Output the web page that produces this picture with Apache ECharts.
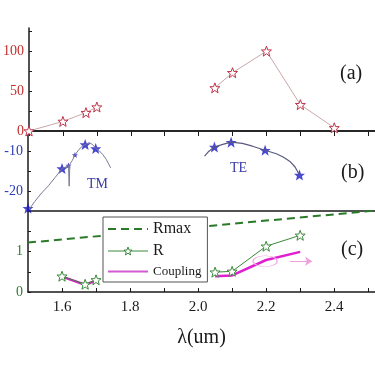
<!DOCTYPE html>
<html>
<head>
  <meta charset="UTF-8">
  <title>Rmax / R / Coupling</title>
  <script src="https://cdn.jsdelivr.net/npm/echarts/dist/echarts.min.js"></script>
  <style>
    html, body { margin: 0; padding: 0; background: #fff; }
    #main { width: 375px; height: 375px; }
  </style>
</head>
<body>
  <div id="main"></div>
  <script>
    // panel (a): starred points
    var aLeft = [[1.5, 0], [1.6, 12], [1.668, 23], [1.7, 30]];
    var aRight = [[2.048, 54], [2.1, 73], [2.2, 100], [2.3, 33], [2.4, 4]];

    // panel (b): TM and TE curves, plus starred points
    var tmCurve = [[1.504, -24.5], [1.52, -22.6], [1.54, -20.5], [1.56, -18.7], [1.58, -16.6],
      [1.6, -14.4], [1.61, -14.0], [1.619, -13.6], [1.621, -18.8], [1.623, -13.3],
      [1.63, -12.4], [1.638, -11.0], [1.65, -9.6], [1.66, -8.8], [1.668, -8.4],
      [1.68, -7.9], [1.69, -8.4], [1.699, -9.3], [1.71, -10.0], [1.72, -10.9],
      [1.73, -12.1], [1.743, -14.2]];
    var tmStars = [[1.5, -24.3], [1.6, -14.4], [1.668, -8.4], [1.699, -9.4]];
    var tmSmallStars = [[1.619, -13.6], [1.638, -11.0]];
    var teCurve = [[2.019, -11.3], [2.03, -10.2], [2.048, -9.0], [2.07, -8.4], [2.097, -7.8],
      [2.13, -8.1], [2.16, -8.8], [2.197, -9.8], [2.23, -10.7], [2.25, -11.5],
      [2.27, -12.6], [2.285, -14.0], [2.298, -16.0]];
    var teStars = [[2.048, -9.0], [2.097, -7.8], [2.197, -9.8], [2.298, -16.0]];

    // panel (c)
    var rmax = [[1.5, 1.22], [2.52, 2.01]];
    var rLeft = [[1.6, 0.39], [1.668, 0.19], [1.7, 0.3]];
    var rRight = [[2.05, 0.49], [2.1, 0.51], [2.2, 1.13], [2.3, 1.4]];
    var cLeft = [[1.6, 0.38], [1.668, 0.18], [1.7, 0.28]];
    var cRight = [[2.05, 0.39], [2.1, 0.41], [2.2, 0.79], [2.3, 0.99]];

    var font = "'Liberation Serif', 'DejaVu Serif', serif";
    var black = '#1a1a1a';
    var star = 'path://M12,1 L15,9 L23,9 L17,14 L19,22 L12,17 L5,22 L7,14 L1,9 L9,9 Z';

    var chart = echarts.init(document.getElementById('main'));

    function xAx(idx, showLabel) {
      return {
        type: 'value', gridIndex: idx, min: 1.5, max: 2.52, interval: 0.1,
        axisLine: { show: true, onZero: false, lineStyle: { color: black, width: 1.5 } },
        axisTick: { show: showLabel, inside: true, length: 4, lineStyle: { color: black } },
        splitLine: { show: false },
        axisLabel: {
          show: showLabel, color: black, fontFamily: font, fontSize: 15, margin: 8,
          showMaxLabel: false, showMinLabel: false,
          formatter: function (v) {
            var k = Math.round(v * 10);
            return (k % 2 === 0 && k > 15 && k < 25) ? (k / 10).toFixed(1) : '';
          }
        },
        name: showLabel ? 'λ(um)' : '',
        nameLocation: 'middle', nameGap: 36,
        nameTextStyle: { color: black, fontFamily: font, fontSize: 20 }
      };
    }

    function yAx(idx, min, max, interval, color, step) {
      return {
        type: 'value', gridIndex: idx, min: min, max: max, interval: interval,
        axisLine: { show: true, lineStyle: { color: black, width: 1.5 } },
        axisTick: { show: true, inside: true, length: 3, lineStyle: { color: black } },
        splitLine: { show: false },
        axisLabel: {
          color: color, fontFamily: font, fontSize: 14, margin: 5,
          showMaxLabel: false,
          formatter: function (v) {
            return (Math.abs(v % step) < 1e-6) ? String(v) : '';
          }
        }
      };
    }

    var option = {
      backgroundColor: '#fff',
      animation: false,
      grid: [
        { left: 28, right: 0, top: 28, height: 103 },
        { left: 28, right: 0, top: 131, height: 80 },
        { left: 28, right: 0, top: 211, height: 81 }
      ],
      xAxis: [
        xAx(0, false), xAx(1, false), xAx(2, true),
        {
          type: 'value', gridIndex: 0, position: 'top', min: 1.5, max: 2.52, interval: 0.1,
          axisLine: { show: true, lineStyle: { color: black, width: 1.5 } },
          axisTick: { inside: true, length: 5, lineStyle: { color: black } },
          axisLabel: { show: false }, splitLine: { show: false }
        }
      ],
      yAxis: [
        yAx(0, 0, 129, 25, '#c62f2f', 50),
        yAx(1, -25, -5, 5, '#2a3bb5', 10),
        yAx(2, 0, 2, 0.5, '#2e7d2e', 1)
      ],
      legend: {
        orient: 'vertical', left: 103, top: 217,
        backgroundColor: '#fff', borderColor: '#555', borderWidth: 1,
        padding: [4, 6, 4, 4], itemGap: 6, itemWidth: 40, itemHeight: 10,
        data: [
          { name: 'Rmax', itemStyle: { opacity: 0 } },
          { name: 'R', itemStyle: { color: '#fff', borderColor: '#3a8a3a', borderWidth: 1 },
            lineStyle: { color: '#3a8a3a', width: 1 } },
          { name: 'Coupling', itemStyle: { opacity: 0 }, lineStyle: { color: '#d25ad2', width: 2 } }
        ],
        textStyle: {
          color: black, fontFamily: font, fontSize: 16,
          rich: { s: { fontFamily: font, fontSize: 13, color: black } }
        },
        formatter: function (n) { return n === 'Coupling' ? '{s|Coupling}' : n; }
      },
      graphic: [
        { type: 'text', left: 340, top: 64, style: { text: '(a)', font: '20px ' + font, fill: black } },
        { type: 'text', left: 341, top: 163, style: { text: '(b)', font: '20px ' + font, fill: black } },
        { type: 'text', left: 341, top: 240, style: { text: '(c)', font: '20px ' + font, fill: black } },
        { type: 'text', left: 87, top: 177, style: { text: 'TM', font: '14px ' + font, fill: '#3a3aa8' } },
        { type: 'text', left: 230, top: 161, style: { text: 'TE', font: '14px ' + font, fill: '#3a3aa8' } }
      ],
      series: [
        // panel (a)
        { type: 'line', xAxisIndex: 0, yAxisIndex: 0, data: aLeft, symbol: star, symbolSize: 10,
          lineStyle: { color: '#c9a8a8', width: 1 }, itemStyle: { color: '#fff', borderColor: '#c0324a', borderWidth: 1 } },
        { type: 'line', xAxisIndex: 0, yAxisIndex: 0, data: aRight, symbol: star, symbolSize: 10,
          lineStyle: { color: '#c9a8a8', width: 1 }, itemStyle: { color: '#fff', borderColor: '#c0324a', borderWidth: 1 } },
        // panel (b)
        { type: 'line', xAxisIndex: 1, yAxisIndex: 1, data: tmCurve, symbol: 'none',
          lineStyle: { color: '#7a7a98', width: 1 } },
        { type: 'line', xAxisIndex: 1, yAxisIndex: 1, data: teCurve, symbol: 'none',
          lineStyle: { color: '#5a5a80', width: 1.2 } },
        { type: 'scatter', xAxisIndex: 1, yAxisIndex: 1, data: tmStars.concat(teStars),
          symbol: star, symbolSize: 11, itemStyle: { color: '#1a1ac4' } },
        { type: 'scatter', xAxisIndex: 1, yAxisIndex: 1, data: tmSmallStars,
          symbol: star, symbolSize: 6, itemStyle: { color: '#1a1ac4' } },
        // panel (c)
        { name: 'Rmax', type: 'line', xAxisIndex: 2, yAxisIndex: 2, data: rmax, symbol: 'none',
          lineStyle: { color: '#2a7a2a', width: 2, type: [8, 5] }, itemStyle: { color: '#2a7a2a' } },
        { name: 'R', type: 'line', xAxisIndex: 2, yAxisIndex: 2, data: rLeft, symbol: star, symbolSize: 10,
          lineStyle: { color: '#3a8a3a', width: 1 }, itemStyle: { color: '#fff', borderColor: '#3a8a3a', borderWidth: 1 } },
        { name: 'R', type: 'line', xAxisIndex: 2, yAxisIndex: 2, data: rRight, symbol: star, symbolSize: 10,
          lineStyle: { color: '#3a8a3a', width: 1 }, itemStyle: { color: '#fff', borderColor: '#3a8a3a', borderWidth: 1 } },
        { name: 'Coupling', type: 'line', xAxisIndex: 2, yAxisIndex: 2, data: cLeft, symbol: 'none', z: 1,
          lineStyle: { color: '#e020d0', width: 2.5 }, itemStyle: { color: '#d050d0' } },
        { name: 'Coupling', type: 'line', xAxisIndex: 2, yAxisIndex: 2, data: cRight, symbol: 'none', z: 1,
          lineStyle: { color: '#e020d0', width: 2.5 }, itemStyle: { color: '#d050d0' },
          markPoint: {
            symbol: 'circle', symbolSize: [24, 11], silent: true, label: { show: false },
            itemStyle: { color: 'rgba(0,0,0,0)', borderColor: '#f2b0e4', borderWidth: 1 },
            data: [{ coord: [2.197, 0.76] }]
          },
          markLine: {
            silent: true, symbol: ['none', 'arrow'], symbolSize: 7, label: { show: false },
            lineStyle: { color: '#f0a0e0', width: 1, type: 'solid' },
            data: [[{ coord: [2.27, 0.76] }, { coord: [2.335, 0.76] }]]
          } }
      ]
    };

    chart.setOption(option);
  </script>
</body>
</html>
